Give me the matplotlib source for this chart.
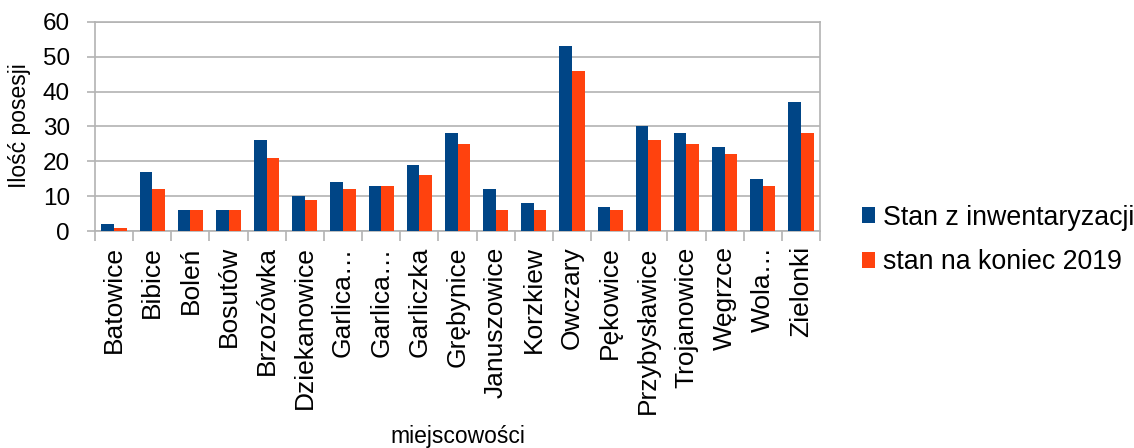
import matplotlib
matplotlib.use("Agg")
import matplotlib.pyplot as plt
import numpy as np

categories = ["Batowice", "Bibice", "Boleń", "Bosutów", "Brzozówka", "Dziekanowice",
              "Garlica…", "Garlica…", "Garliczka", "Grębynice", "Januszowice", "Korzkiew",
              "Owczary", "Pękowice", "Przybysławice", "Trojanowice", "Węgrzce", "Wola…", "Zielonki"]
stan_inw = [2, 17, 6, 6, 26, 10, 14, 13, 19, 28, 12, 8, 53, 7, 30, 28, 24, 15, 37]
stan_2019 = [1, 12, 6, 6, 21, 9, 12, 13, 16, 25, 6, 6, 46, 6, 26, 25, 22, 13, 28]
series_names = ["Stan z inwentaryzacji", "stan na koniec 2019"]
yticks = [0, 10, 20, 30, 40, 50, 60]

plt.rcParams['font.family'] = ['Liberation Sans', 'DejaVu Sans']

fig = plt.figure(figsize=(11.34, 4.48), dpi=100)
ax = fig.add_axes([95/1134, 1-231/448, (820-95)/1134, (231-22)/448])

x = np.arange(len(categories))
w = 0.33
b1 = ax.bar(x - w/2, stan_inw, w, color="#004586", label=series_names[0], zorder=3)
b2 = ax.bar(x + w/2, stan_2019, w, color="#ff420e", label=series_names[1], zorder=3)

ax.set_xlim(-0.5, len(categories) - 0.5)
ax.set_ylim(0, 60)
ax.set_yticks(yticks)
ax.set_yticklabels([str(t) for t in yticks], fontsize=17.5)
ax.yaxis.grid(True, color="#b3b3b3", linewidth=1.2, zorder=0)
ax.set_axisbelow(True)

ax.set_xticks(x)
ax.set_xticklabels(categories, rotation=90, fontsize=19, va="top")
ax.tick_params(axis="x", length=0, pad=11)
ax.set_xticks(np.arange(-0.5, len(categories)), minor=True)
ax.tick_params(axis="x", which="minor", length=7, color="#b3b3b3", width=1.2)
ax.tick_params(axis="y", length=6, color="#b3b3b3", width=1.2, pad=12)

for s in ax.spines.values():
    s.set_color("#b3b3b3")
    s.set_linewidth(1.2)

fig.text(20/1134, 1-126/448, "Ilość posesji", fontsize=16.5, rotation=90,
         ha="center", va="center")
fig.text(458/1134, 1-436/448, "miejscowości", fontsize=16.5, ha="center", va="center")

leg = fig.legend(handles=[b1, b2], labels=series_names, loc="center left",
                 bbox_to_anchor=(862/1134, 1-240/448), frameon=False, fontsize=19.3,
                 handlelength=0.5, handleheight=0.5, labelspacing=0.7,
                 handletextpad=0.3, borderpad=0, borderaxespad=0)

fig.savefig("out.png", dpi=100)
